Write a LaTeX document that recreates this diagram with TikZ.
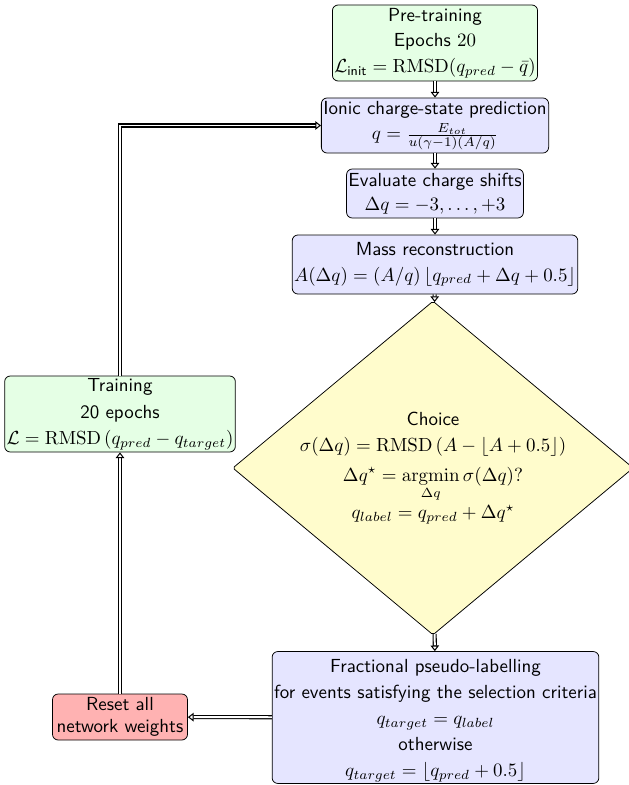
\documentclass[tikz,border=0pt]{standalone}
\usepackage{amsmath}
\usetikzlibrary{shapes.geometric,arrows.meta}
\newcommand\pxu{0.528pt}
\tikzset{
  box/.style={draw=black, rounded corners=3pt, align=center, font=\sffamily, inner sep=1pt},
  greenbox/.style={box, fill=green!10},
  bluebox/.style={box, fill=blue!10},
  redbox/.style={box, fill=red!30},
  choicebox/.style={draw=black, shape=diamond, rounded corners=1pt, fill=yellow!20, align=center, font=\sffamily, inner sep=0pt, aspect=1.2},
  arr/.style={draw=black, line width=0.55pt, double, double distance=1.05pt, line join=miter, -{Triangle[open, length=3pt, width=4.5pt]}},
}
\begin{document}
\begin{tikzpicture}[x=\pxu, y=-\pxu]
\useasboundingbox (0,0) rectangle (629,785);
\node[greenbox, minimum width={202*\pxu}, minimum height={76*\pxu}] (pre) at (435,43)
  {Pre-training\\[1.5pt] Epochs $20$\\[1.5pt] $\mathcal{L}_{\text{init}} = \mathrm{RMSD}(q_{pred}-\bar{q})$};
\node[bluebox, minimum width={225*\pxu}, minimum height={55*\pxu}] (ion) at (435,125.5)
  {Ionic charge-state prediction\\[1.5pt] $q=\frac{E_{tot}}{u(\gamma-1)(A/q)}$};
\node[bluebox, minimum width={175*\pxu}, minimum height={49*\pxu}] (eval) at (435,193.5)
  {Evaluate charge shifts\\[1pt] $\Delta q = -3,\ldots,+3$};
\node[bluebox, minimum width={281*\pxu}, minimum height={59*\pxu}] (mass) at (435,264.5)
  {Mass reconstruction\\[1.5pt] $A(\Delta q) = (A/q)\left\lfloor q_{pred}+\Delta q+0.5\right\rfloor$};
\node[choicebox, minimum width={392*\pxu}, minimum height={330*\pxu}] (choice) at (433,468)
  {Choice\\[1.5pt] $\sigma(\Delta q) = \mathrm{RMSD}\left(A-\lfloor A+0.5\rfloor\right)$\\[4pt]
   $\displaystyle \Delta q^\star = \operatorname*{argmin}_{\Delta q}\sigma(\Delta q)?$\\[1pt]
   $q_{label} = q_{pred}+\Delta q^\star$};
\node[bluebox, minimum width={323*\pxu}, minimum height={129*\pxu}] (frac) at (435.5,717.5)
  {\rule{0pt}{10pt}Fractional pseudo-labelling\\[1.7pt] for events satisfying the selection criteria\\[1.7pt]
   $q_{target}=q_{label}$\\[1.7pt] otherwise\\[1.7pt] $q_{target}=\lfloor q_{pred}+0.5\rfloor$};
\node[redbox, minimum width={135*\pxu}, minimum height={46*\pxu}] (reset) at (120,717)
  {Reset all\\ network weights};
\node[greenbox, minimum width={221*\pxu}, minimum height={76*\pxu}] (train) at (120,414)
  {Training\\[2.5pt] 20 epochs\\[1.5pt] $\mathcal{L} = \mathrm{RMSD}\left(q_{pred}-q_{target}\right)$};
\coordinate (corner) at (train.north |- ion.west);
\draw[arr] (pre) -- (ion);
\draw[arr] (ion) -- (eval);
\draw[arr] (eval) -- (mass);
\draw[arr] (mass) -- (choice);
\draw[arr] (choice) -- (frac);
\draw[arr] (frac) -- (reset);
\draw[arr] (reset) -- (train);
\draw[arr] (train.north) -- (corner) -- (ion.west);
\end{tikzpicture}
\end{document}
